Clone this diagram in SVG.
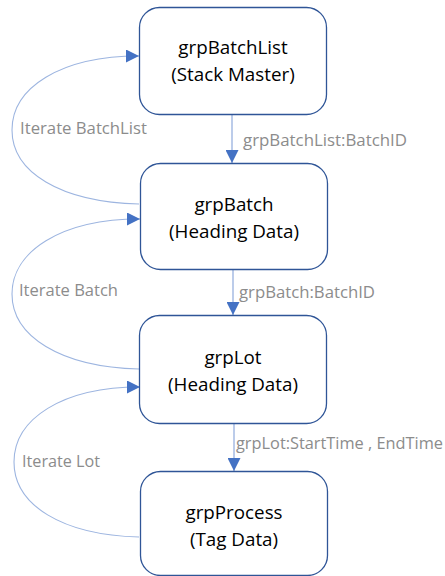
<svg xmlns="http://www.w3.org/2000/svg" width="445" height="576" viewBox="0 0 445 576">
<defs>
<marker id="ah" markerWidth="13" markerHeight="13" refX="12" refY="6" orient="auto" markerUnits="userSpaceOnUse" viewBox="0 0 12 12">
<path d="M0,0 L12,6 L0,12 Z" fill="#4472C4"/>
</marker>
<style>
.box{fill:#fff;stroke:#2F5597;stroke-width:1.3}
.t{font-family:"Open Sans","Liberation Sans",sans-serif;font-size:18.8px;fill:#000;text-anchor:middle}
.lbl{font-family:"Open Sans","Liberation Sans",sans-serif;font-size:16px;fill:#8C8C8C}
.c{fill:none;stroke:#9DB5E0;stroke-width:1.1}
.v{fill:none;stroke:#8FAADC;stroke-width:1.2}
</style>
</defs>
<rect width="445" height="576" fill="#fff"/>
<g id="connectors">
<path class="v" d="M232,114 L232,163" marker-end="url(#ah)"/>
<path class="v" d="M233,270 L233,315" marker-end="url(#ah)"/>
<path class="v" d="M234,423 L234,471" marker-end="url(#ah)"/>
<path class="c" d="M139,204 C60,202 12,172 12,130 C12,88 60,56 139,56" marker-end="url(#ah)"/>
<path class="c" d="M139,369 C60,367 12,336 12,294 C12,252 60,219 140,219" marker-end="url(#ah)"/>
<path class="c" d="M139,537 C62,535 14,505 14,462 C14,419 62,387 140,387" marker-end="url(#ah)"/>
<text class="lbl" x="243" y="146" textLength="164" lengthAdjust="spacingAndGlyphs">grpBatchList:BatchID</text>
<text class="lbl" x="239" y="298" textLength="136" lengthAdjust="spacingAndGlyphs">grpBatch:BatchID</text>
<text class="lbl" x="236" y="449" textLength="207" lengthAdjust="spacingAndGlyphs">grpLot:StartTime , EndTime</text>
<text class="lbl" x="20" y="134" textLength="127" lengthAdjust="spacingAndGlyphs">Iterate BatchList</text>
<text class="lbl" x="19" y="296" textLength="99" lengthAdjust="spacingAndGlyphs">Iterate Batch</text>
<text class="lbl" x="22" y="467" textLength="78" lengthAdjust="spacingAndGlyphs">Iterate Lot</text>
</g>
<g id="grpBatchList">
<rect class="box" x="139.5" y="7.5" width="187" height="107" rx="20"/>
<text class="t" x="233" y="54">grpBatchList</text>
<text class="t" x="233" y="81">(Stack Master)</text>
</g>
<g id="grpBatch">
<rect class="box" x="140.5" y="163.5" width="187" height="106" rx="20"/>
<text class="t" x="234" y="211">grpBatch</text>
<text class="t" x="234" y="238">(Heading Data)</text>
</g>
<g id="grpLot">
<rect class="box" x="139.5" y="315.5" width="187" height="108" rx="20"/>
<text class="t" x="233" y="364">grpLot</text>
<text class="t" x="233" y="391">(Heading Data)</text>
</g>
<g id="grpProcess">
<rect class="box" x="140.5" y="471.5" width="187" height="104" rx="20"/>
<text class="t" x="234" y="519">grpProcess</text>
<text class="t" x="234" y="546">(Tag Data)</text>
</g>
</svg>
